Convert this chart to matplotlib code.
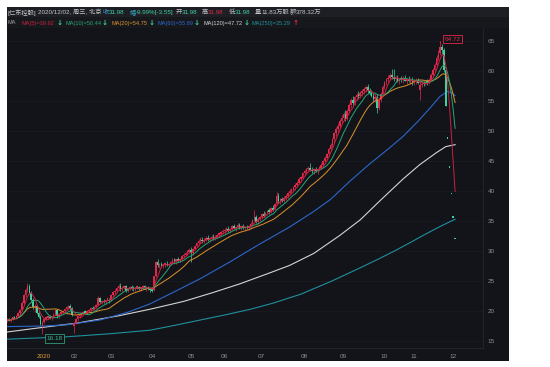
import numpy as np
import pandas as pd
import matplotlib.pyplot as plt
from matplotlib.patches import Rectangle

plt.rcParams['font.family'] = ['Liberation Sans', 'Noto Sans CJK SC', 'DejaVu Sans']

# 日K数据 (2019-12-04 .. 2020-12-02), 按月分行
opens = [
    18.4, 18.6, 18.4, 18.7, 18.9, 18.8, 19.2, 19.6, 20.2, 21.4, 22.6, 23.5, 24.2, 23.0, 21.8, 20.6, 20.9, 19.7, 19.0, 17.5,
    18.2, 18.7, 18.9, 19.0, 18.8, 19.1, 19.4, 20.1, 19.1, 19.5, 19.8, 20.0, 20.3, 20.6, 20.8, 20.5,
    17.5, 18.0, 18.6, 19.1, 19.4, 19.6, 19.8, 19.7, 20.0, 20.2, 20.4, 20.3, 20.7, 21.0, 22.1, 21.5, 21.7, 21.5, 21.8, 21.9,
    21.8, 22.6, 23.1, 23.4, 23.8, 24.2, 23.6, 23.9, 24.1, 23.4, 23.7, 24.0, 23.7, 23.6, 23.9, 24.0, 23.7, 23.8, 24.1, 23.8, 23.9, 23.7,
    23.5, 23.5, 25.8, 28.2, 27.6, 27.8, 27.5, 27.7, 27.9, 27.6, 27.8, 28.2, 28.5, 28.3, 28.6, 28.4, 28.7, 29.1, 29.4, 29.7, 29.9,
    30.2, 29.6, 30.3, 30.8, 31.3, 31.7, 31.9, 31.6, 31.9, 32.2, 31.9, 32.1, 32.4, 32.1, 32.4, 32.7, 32.9, 33.1,
    33.3, 33.5, 33.7, 33.4, 33.7, 34.1, 33.8, 34.0, 34.3, 33.9, 34.1, 33.8, 34.0, 33.8, 34.1, 34.5, 35.2, 35.6, 34.9, 35.3,
    35.7, 36.1, 35.9, 36.3, 36.7, 36.5, 37.2, 37.0, 37.8, 39.2, 38.3, 38.6, 38.4, 38.9, 39.2, 39.6, 40.0, 40.2, 40.7, 41.0, 41.4, 42.0, 42.2,
    43.0, 43.2, 43.6, 43.9, 43.5, 43.3, 43.6, 43.4, 43.7, 43.9, 44.3, 45.0, 45.5, 46.2, 47.0, 47.7, 48.6, 49.6, 50.3, 50.8, 51.7,
    52.2, 52.8, 52.0, 53.3, 54.3, 55.1, 54.6, 55.6, 56.0, 55.8, 56.4, 56.6, 57.0, 57.3, 56.7, 56.3, 55.9, 55.4, 55.7, 53.8, 55.1, 56.2,
    57.3, 58.1, 58.6, 58.9, 59.3, 59.0, 58.6, 58.9, 58.4, 58.7, 58.5, 58.8, 58.4, 58.6, 58.3, 58.5,
    58.1, 58.3, 58.5, 56.8, 57.6, 57.9, 57.8, 58.1, 58.0, 58.5, 59.3, 60.1, 61.0, 62.2, 63.0, 64.0, 63.46, 60.18, 48.74, 43.87, 39.48,
    35.53, 31.98,
]
highs = [
    18.8, 18.9, 18.8, 19.1, 19.2, 19.3, 19.8, 20.4, 21.6, 22.8, 23.8, 24.7, 24.5, 23.3, 22.2, 21.2, 21.0, 20.0, 19.3, 18.4,
    18.9, 19.2, 19.3, 19.4, 19.2, 19.6, 20.3, 20.4, 19.6, 19.9, 20.2, 20.5, 20.8, 21.0, 21.1, 20.7,
    18.2, 18.8, 19.3, 19.6, 19.8, 20.0, 20.1, 20.2, 20.4, 20.6, 20.8, 20.9, 21.2, 22.5, 22.4, 21.9, 22.0, 21.9, 22.3, 22.2,
    22.8, 23.3, 23.6, 24.0, 24.5, 24.6, 24.1, 24.4, 24.3, 23.9, 24.2, 24.3, 24.1, 24.0, 24.3, 24.2, 24.0, 24.3, 24.4, 24.1, 24.2, 23.9,
    23.8, 25.9, 28.4, 28.6, 28.0, 28.1, 27.9, 28.2, 28.3, 28.0, 28.4, 28.8, 28.9, 28.7, 29.0, 28.9, 29.3, 29.6, 29.9, 30.2, 30.5,
    30.6, 30.5, 31.0, 31.5, 32.0, 32.3, 32.4, 32.1, 32.5, 32.6, 32.3, 32.7, 32.8, 32.6, 32.9, 33.2, 33.4, 33.6,
    33.8, 34.0, 34.1, 33.9, 34.4, 34.5, 34.2, 34.6, 34.7, 34.3, 34.5, 34.2, 34.4, 34.3, 34.8, 35.4, 36.8, 36.0, 35.6, 35.9,
    36.3, 36.6, 36.5, 36.9, 37.2, 37.4, 37.6, 38.0, 39.8, 39.6, 38.9, 39.0, 39.1, 39.5, 39.8, 40.3, 40.5, 40.9, 41.3, 41.7, 42.3, 42.5, 43.2,
    43.6, 43.9, 44.2, 44.7, 44.0, 43.8, 44.0, 43.9, 44.2, 44.6, 45.2, 45.8, 46.4, 47.3, 48.0, 48.9, 49.9, 50.6, 51.3, 52.0, 52.6,
    53.1, 53.5, 53.6, 54.6, 55.5, 55.8, 55.9, 56.4, 56.6, 56.7, 57.0, 57.3, 57.6, 57.8, 57.1, 56.8, 56.4, 56.0, 56.1, 55.4, 56.5, 57.6,
    58.4, 58.9, 59.3, 59.6, 60.3, 60.3, 59.2, 59.3, 58.9, 59.2, 59.1, 59.3, 58.9, 59.1, 58.8, 59.0,
    58.7, 58.9, 58.8, 58.4, 58.3, 58.4, 58.4, 58.6, 58.8, 59.6, 60.5, 61.4, 62.6, 63.5, 64.72, 64.5, 63.9, 60.5, 48.74, 43.87, 39.48,
    35.53, 31.98,
]
lows = [
    18.2, 18.3, 18.2, 18.5, 18.6, 18.6, 19.0, 19.4, 20.0, 21.2, 22.3, 23.1, 22.8, 21.5, 20.4, 19.8, 19.5, 18.8, 17.6, 16.18,
    18.0, 18.5, 18.6, 18.7, 18.5, 18.9, 19.3, 18.9, 18.9, 19.3, 19.6, 19.8, 20.1, 20.3, 20.2, 19.2,
    16.4, 17.8, 18.4, 18.9, 19.1, 19.3, 19.5, 19.5, 19.8, 19.9, 20.1, 20.2, 20.5, 20.9, 21.3, 21.2, 21.3, 21.2, 21.6, 21.4,
    21.7, 22.4, 22.9, 23.2, 23.5, 23.4, 23.3, 23.6, 23.2, 23.1, 23.5, 23.5, 23.3, 23.4, 23.6, 23.5, 23.3, 23.6, 23.7, 23.4, 23.5, 23.2,
    23.1, 23.3, 25.6, 27.3, 27.2, 27.3, 27.1, 27.4, 27.5, 27.3, 27.6, 27.9, 28.0, 27.9, 28.2, 28.1, 28.4, 28.8, 29.1, 29.3, 29.6,
    28.2, 29.4, 30.1, 30.6, 31.0, 31.3, 31.4, 31.3, 31.6, 31.7, 31.5, 31.9, 31.9, 31.8, 32.1, 32.3, 32.5, 32.8,
    32.9, 33.1, 33.2, 33.1, 33.5, 33.6, 33.4, 33.8, 33.7, 33.5, 33.6, 33.3, 33.6, 33.5, 33.9, 34.3, 35.0, 34.6, 34.5, 35.0,
    35.4, 35.7, 35.6, 36.0, 36.2, 36.3, 36.6, 36.8, 37.6, 38.0, 37.9, 38.1, 38.2, 38.5, 38.8, 39.3, 39.5, 39.9, 40.2, 40.6, 41.1, 41.5, 42.0,
    42.6, 42.8, 43.2, 43.3, 43.0, 42.8, 43.1, 42.9, 43.3, 43.6, 44.0, 44.7, 45.2, 45.9, 46.6, 47.4, 48.2, 49.2, 49.9, 50.5, 51.3,
    51.8, 51.6, 51.8, 53.0, 53.9, 54.2, 54.4, 55.2, 55.4, 55.5, 55.9, 56.2, 56.5, 56.4, 56.0, 55.6, 55.0, 54.9, 53.0, 53.5, 54.9, 56.0,
    57.0, 57.7, 58.2, 58.5, 58.7, 58.4, 58.1, 58.2, 57.9, 58.2, 58.0, 58.3, 57.8, 58.1, 57.9, 57.7,
    57.6, 57.9, 57.8, 55.2, 57.3, 57.5, 57.6, 57.7, 57.8, 58.3, 59.0, 59.8, 60.7, 61.8, 62.6, 62.8, 59.8, 54.16, 48.74, 43.87, 39.48,
    35.53, 31.98,
]
closes = [
    18.6, 18.4, 18.7, 18.9, 18.8, 19.2, 19.6, 20.2, 21.4, 22.6, 23.5, 24.2, 23.0, 21.8, 20.6, 20.9, 19.7, 19.0, 17.9, 18.2,
    18.7, 18.9, 19.0, 18.8, 19.1, 19.4, 20.1, 19.1, 19.5, 19.8, 20.0, 20.3, 20.6, 20.8, 20.5, 19.4,
    18.0, 18.6, 19.1, 19.4, 19.6, 19.8, 19.7, 20.0, 20.2, 20.4, 20.3, 20.7, 21.0, 22.1, 21.5, 21.7, 21.5, 21.8, 22.1, 21.6,
    22.6, 23.1, 23.4, 23.8, 24.2, 23.6, 23.9, 24.1, 23.4, 23.7, 24.0, 23.7, 23.6, 23.9, 24.0, 23.7, 23.8, 24.1, 23.8, 23.9, 23.7, 23.5,
    23.4, 25.8, 28.2, 27.6, 27.8, 27.5, 27.7, 27.9, 27.6, 27.8, 28.2, 28.5, 28.3, 28.6, 28.4, 28.7, 29.1, 29.4, 29.7, 29.9, 30.2,
    29.6, 30.3, 30.8, 31.3, 31.7, 31.9, 31.6, 31.9, 32.2, 31.9, 32.1, 32.4, 32.1, 32.4, 32.7, 32.9, 33.1, 33.3,
    33.5, 33.7, 33.4, 33.7, 34.1, 33.8, 34.0, 34.3, 33.9, 34.1, 33.8, 34.0, 33.8, 34.1, 34.5, 35.2, 35.6, 34.9, 35.3, 35.7,
    36.1, 35.9, 36.3, 36.7, 36.5, 37.2, 36.9, 37.8, 39.2, 38.3, 38.6, 38.4, 38.9, 39.2, 39.6, 40.0, 40.2, 40.7, 41.0, 41.4, 42.0, 42.2, 43.0,
    43.2, 43.6, 43.9, 43.5, 43.3, 43.6, 43.4, 43.7, 43.9, 44.3, 45.0, 45.5, 46.2, 47.0, 47.7, 48.6, 49.6, 50.3, 50.8, 51.7, 52.2,
    52.8, 52.0, 53.3, 54.3, 55.1, 54.6, 55.6, 56.0, 55.8, 56.4, 56.6, 57.0, 57.3, 56.7, 56.3, 55.9, 55.4, 55.7, 53.8, 55.1, 56.2, 57.3,
    58.1, 58.6, 58.9, 59.3, 59.0, 58.6, 58.9, 58.4, 58.7, 58.5, 58.8, 58.4, 58.6, 58.3, 58.5, 58.1,
    58.3, 58.5, 58.0, 57.6, 57.9, 57.8, 58.1, 58.0, 58.5, 59.3, 60.1, 61.0, 62.2, 63.0, 64.0, 63.46, 60.18, 54.16, 48.74, 43.87, 39.48,
    35.53, 31.98,
]

# 月份刻度 (交易日序号)
month_pos = [20, 36, 56, 78, 99, 117, 137, 160, 181, 203, 219, 240]
month_lbl = ['2020', '02', '03', '04', '05', '06', '07', '08', '09', '10', '11', '12']

# 长周期均线 (从图上读的点)
ma60_pos = [0, 20, 32, 50, 65, 77, 90, 104, 120, 135, 152, 165, 174, 185, 195, 205, 213, 221, 228, 233, 237, 239, 241]
ma60_val = [17.4, 17.5, 17.7, 18.5, 19.8, 21.2, 23.2, 25.4, 28.2, 31.0, 34.0, 36.6, 38.6, 41.8, 44.5, 47.0, 49.1, 51.6,
            54.0, 55.8, 56.6, 56.4, 55.89]
ma120_pos = [0, 20, 38, 60, 77, 95, 110, 125, 140, 152, 165, 179, 190, 201, 213, 222, 231, 236, 241]
ma120_val = [16.5, 17.3, 18.0, 19.2, 20.3, 21.6, 23.0, 24.5, 26.2, 27.6, 29.6, 32.6, 35.2, 38.5, 42.0, 44.4, 46.4, 47.4, 47.72]
ma250_pos = [0, 32, 55, 77, 90, 104, 118, 131, 143, 158, 174, 190, 200, 209, 218, 225, 233, 241]
ma250_val = [15.3, 15.7, 16.2, 16.8, 17.6, 18.5, 19.4, 20.3, 21.3, 22.8, 24.9, 27.2, 28.7, 30.1, 31.6, 32.8, 34.1, 35.29]

UP = '#e0294a'
DN = '#3fd1a0'
C5, C10, C20 = '#c8213f', '#27a673', '#dc922c'
C60, C120, C250 = '#2b66cc', '#d4d4d4', '#1f8f9e'
BG = '#131419'
TXT = '#c4c5c9'

W, H = 550, 367
fig = plt.figure(figsize=(W / 100, H / 100), dpi=100)
fig.patch.set_facecolor('white')

def fx(x):
    return x / W

def fy(y):
    return 1 - y / H

fig.add_artist(Rectangle((fx(7), fy(361)), 502 / W, 354 / H, transform=fig.transFigure,
                         fc=BG, ec='none', zorder=-3))
fig.add_artist(Rectangle((fx(7), fy(17)), 502 / W, 10 / H, transform=fig.transFigure,
                         fc='#1e1f24', ec='none', zorder=-2))
fig.add_artist(Rectangle((fx(7), fy(28)), 502 / W, 11 / H, transform=fig.transFigure,
                         fc='#17181c', ec='none', zorder=-2))

ax = fig.add_axes([fx(7), fy(348), 476 / W, 320 / H])
ax.set_facecolor(BG)

o = np.array(opens)
h = np.array(highs)
l = np.array(lows)
c = np.array(closes)
idx = np.arange(len(c))
prev = np.r_[c[0], c[:-1]]
up = (c > o) | ((c == o) & (c >= prev))
col = np.where(up, UP, DN)

ax.vlines(idx, l, h, colors=col, lw=0.5, zorder=3)
body = np.maximum(np.abs(c - o), 0.25)
ax.bar(idx, body, bottom=np.minimum(o, c), width=0.85, color=col, lw=0, zorder=3)

s = pd.Series(closes)
ma5 = s.rolling(5, min_periods=1).mean()
ma10 = s.rolling(10, min_periods=1).mean()
ma20 = s.rolling(20, min_periods=1).mean()

ax.plot(ma250_pos, ma250_val, color=C250, lw=0.8, zorder=2)
ax.plot(ma120_pos, ma120_val, color=C120, lw=0.8, zorder=2)
ax.plot(ma60_pos, ma60_val, color=C60, lw=0.8, zorder=2)
ax.plot(idx, ma20, color=C20, lw=0.7, zorder=4)
ax.plot(idx, ma10, color=C10, lw=0.7, zorder=4)
ax.plot(idx, ma5, color=C5, lw=0.7, zorder=4)

# 最高 / 最低 标注
hi = int(np.argmax(h))
lo = int(np.argmin(l))
ax.annotate(f'{h[hi]:.2f}', xy=(hi, h[hi]), xytext=(hi + 6.4, h[hi] + 0.6),
            ha='center', va='center', fontsize=4.6, color=UP, zorder=6,
            bbox=dict(boxstyle='square,pad=0.25', fc=BG, ec=UP, lw=0.6),
            arrowprops=dict(arrowstyle='-', color=UP, lw=0.6,
                            connectionstyle='angle,angleA=0,angleB=90,rad=0'))
ax.annotate(f'{l[lo]:.2f}', xy=(lo, l[lo]), xytext=(lo + 6.7, l[lo] - 0.75),
            ha='center', va='center', fontsize=4.6, color='#37b98b', zorder=6,
            bbox=dict(boxstyle='square,pad=0.25', fc=BG, ec='#2f9c76', lw=0.6),
            arrowprops=dict(arrowstyle='-', color='#2f9c76', lw=0.6,
                            connectionstyle='angle,angleA=0,angleB=90,rad=0'))

ax.set_xlim(0, 256)
ax.set_ylim(15 - 7 / 6, 15 + 313 / 6)
ax.yaxis.tick_right()
ax.set_yticks(range(15, 66, 5))
ax.set_xticks(month_pos)
ax.set_xticklabels(month_lbl)
ax.tick_params(axis='y', length=0, pad=3.2, labelsize=4.6, labelcolor='#8d8f95')
ax.tick_params(axis='x', length=0, pad=4.0, labelsize=4.6, labelcolor='#8d8f95')
ax.get_xticklabels()[0].set_color('#d59a3a')
ax.grid(axis='y', color='#1c1e23', lw=0.5)
for side in ['top', 'left']:
    ax.spines[side].set_visible(False)
for side in ['right', 'bottom']:
    ax.spines[side].set_color('#24262c')
    ax.spines[side].set_linewidth(0.6)

# 顶部行情信息
row1 = [
    (8, '[仁东控股]', TXT), (38, '2020/12/02, 周三, 北京', TXT),
    (103, '收', '#3a9fc6'), (109, '31.98', DN), (130, '幅', '#3a9fc6'), (136, '-9.99%[-3.55]', DN),
    (176, '开', TXT), (182, '31.98', DN), (202, '高', TXT), (208, '31.98', UP),
    (229, '低', TXT), (235, '31.98', DN), (255, '量', TXT), (261, '11.83万股', TXT),
    (290, '额', TXT), (296, '378.32万', TXT),
]
for x, t, cc in row1:
    fig.text(fx(x), fy(12.5), t, color=cc, fontsize=4.5, ha='left', va='center')

row2 = [
    (8, 'MA', '#9a9ba0'), (22, 'MA(5)=39.92', C5), (57, '↓', DN),
    (65, 'MA(10)=50.44', C10), (102, '↓', DN),
    (111, 'MA(20)=54.75', C20), (149, '↓', DN),
    (157, 'MA(60)=55.89', C60), (194, '↓', DN),
    (203, 'MA(120)=47.72', C120), (244, '↓', DN),
    (252, 'MA(250)=35.29', C250), (293, '↑', UP),
]
for x, t, cc in row2:
    if t in ('↓', '↑'):
        fig.text(fx(x), fy(23), t, color=cc, fontsize=5.2, ha='left', va='center',
                 fontweight='bold', family='DejaVu Sans')
    else:
        fig.text(fx(x), fy(23), t, color=cc, fontsize=4.1, ha='left', va='center')

fig.savefig('out.png', dpi=100, facecolor='white')
